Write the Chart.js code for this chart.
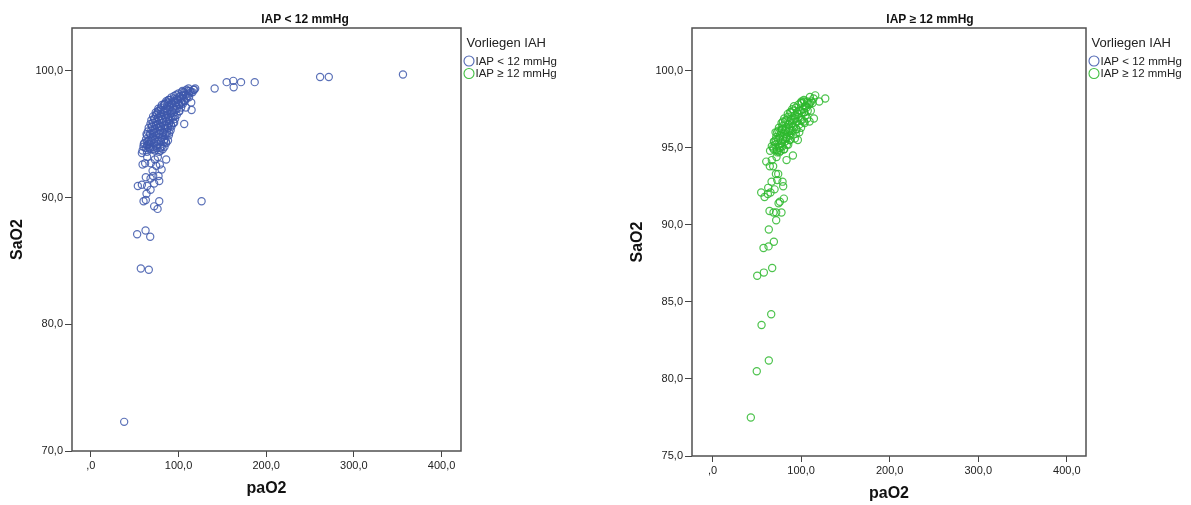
<!DOCTYPE html>
<html>
<head>
<meta charset="utf-8">
<title>SaO2 vs paO2 nach Vorliegen IAH</title>
<script src="https://cdn.jsdelivr.net/npm/chart.js@4.4.1/dist/chart.umd.min.js"></script>
<style>
  html, body { margin: 0; padding: 0; background: #fff; width: 1191px; height: 505px; overflow: hidden; }
  .panel { position: absolute; top: 0; height: 505px; }
  canvas { display: block; }
</style>
</head>
<body>
<div class="panel" style="left:0;width:600px"><canvas id="chartLow" width="600" height="505"></canvas></div>
<div class="panel" style="left:600px;width:591px"><canvas id="chartHigh" width="591" height="505"></canvas></div>
<script>
// ---- labels ----
const legendTitle = 'Vorliegen IAH';
const groupLabels = ['IAP < 12 mmHg', 'IAP \u2265 12 mmHg'];
const groupColors = ['#3e58ac', '#2eb82e'];
const xTitle = 'paO2';
const yTitle = 'SaO2';

// ---- tick positions ----
const xTicks = [0, 100, 200, 300, 400];
const yTicksLow = [70, 80, 90, 100];
const yTicksHigh = [75, 80, 85, 90, 95, 100];

// ---- IAP < 12 mmHg ----
const paO2Low = [
  38, 57, 66.1, 52.8, 62.4, 67.7, 126.3, 78, 72.2, 76.1,
  60.1, 62.7, 53.6, 58.2, 63.5, 68.1, 64.2, 72.2, 78, 68.1,
  77.2, 62.7, 71.1, 80.7, 70.4, 74.5, 78.7, 61.9, 68.4, 59,
  85.9, 73, 76.4, 64.2, 58.2, 67.3, 60.4, 79.5, 85.6, 95,
  106.5, 114.9, 108.4, 114.5, 117.9, 141.2, 154.9, 162.5, 162.9, 171.3,
  186.9, 261.5, 271.4, 356,
  59, 64, 69, 73, 78, 82, 60, 64, 67, 71, 75, 79, 84,
  61, 65, 68, 72, 76, 80, 86, 63, 66, 70, 73, 77, 81, 84, 88,
  64, 68, 71, 74, 78, 82, 85, 89, 65, 69, 72, 75, 79, 83, 87, 91,
  66, 70, 73, 76, 80, 84, 88, 92, 68, 71, 74, 77, 81, 85, 89, 94,
  69, 72, 75, 78, 82, 86, 90, 96, 71, 74, 77, 80, 84, 88, 92, 98,
  74, 77, 80, 83, 87, 91, 95, 101, 77, 80, 83, 86, 90, 94, 98, 103,
  81, 84, 87, 90, 93, 97, 101, 105, 86, 89, 92, 95, 99, 103, 107,
  92, 95, 98, 101, 105, 109, 112, 100, 104, 108, 112, 116, 109, 113, 117, 119,
  70.5, 75.5, 83.5, 88.5, 79.5, 86.5, 93.5, 66.5, 63.5, 99.5, 104.5, 111.5, 95.5, 89.5, 84.5,
  62.5, 66.5, 71.5, 75.5, 80.5,
  64.5, 69.5, 74.5, 79.5, 83.5,
  67.5, 72.5, 77.5, 82.5, 86.5, 89.5,
  69.5, 74.5, 78.5, 83.5, 87.5, 91.5,
  72.5, 76.5, 81.5, 85.5, 89.5, 93.5,
  76.5, 79.5, 84.5, 88.5, 92.5, 96.5, 100.5,
  84.5, 88.5, 92.5, 96.5, 100.5, 104.5,
  90.5, 94.5, 98.5, 102.5, 106.5,
  97.5, 101.5, 105.5, 110.5,
  106.5, 110.5, 114.5
];
const saO2Low = [
  72.3, 84.4, 84.3, 87.1, 87.4, 86.9, 89.7, 89.7, 89.3, 89.1,
  89.7, 89.8, 90.9, 91.0, 90.3, 90.6, 90.9, 91.1, 91.3, 91.5,
  91.7, 91.6, 91.7, 92.2, 92.1, 92.5, 92.6, 92.7, 92.7, 92.6,
  93.0, 93.0, 93.2, 93.2, 93.5, 93.8, 94.2, 93.7, 94.4, 95.9,
  95.8, 96.9, 97.1, 97.5, 98.5, 98.6, 99.1, 99.2, 98.7, 99.1,
  99.1, 99.5, 99.5, 99.7,
  93.7, 93.6, 93.8, 93.7, 93.6, 93.8, 94.0, 94.1, 93.9, 94.0, 94.1, 93.9, 94.0,
  94.3, 94.2, 94.4, 94.3, 94.2, 94.4, 94.3, 94.6, 94.5, 94.7, 94.6, 94.5, 94.7, 94.6, 94.5,
  94.9, 95.0, 94.8, 94.9, 95.0, 94.8, 95.0, 94.9, 95.2, 95.3, 95.1, 95.2, 95.3, 95.1, 95.2, 95.3,
  95.5, 95.6, 95.4, 95.5, 95.6, 95.4, 95.5, 95.6, 95.8, 95.9, 95.7, 95.8, 95.9, 95.7, 95.8, 95.9,
  96.1, 96.2, 96.0, 96.1, 96.2, 96.0, 96.1, 96.2, 96.4, 96.5, 96.3, 96.4, 96.5, 96.3, 96.4, 96.5,
  96.7, 96.8, 96.6, 96.7, 96.8, 96.6, 96.7, 96.8, 97.0, 97.1, 96.9, 97.0, 97.1, 96.9, 97.0, 97.1,
  97.3, 97.4, 97.2, 97.3, 97.4, 97.2, 97.3, 97.4, 97.6, 97.7, 97.5, 97.6, 97.7, 97.5, 97.6,
  97.9, 98.0, 97.8, 97.9, 98.0, 97.8, 97.9, 98.2, 98.3, 98.1, 98.2, 98.3, 98.5, 98.4, 98.5, 98.6,
  95.0, 96.6, 97.3, 97.7, 95.6, 96.5, 97.1, 94.2, 95.0, 97.5, 98.4, 98.6, 96.4, 95.9, 95.5,
  93.9, 94.0, 93.8, 93.9, 94.0,
  94.4, 94.5, 94.4, 94.5, 94.4,
  95.0, 95.1, 95.0, 95.1, 95.0, 95.1,
  95.6, 95.7, 95.6, 95.7, 95.6, 95.7,
  96.2, 96.3, 96.2, 96.3, 96.2, 96.3,
  96.8, 96.9, 96.8, 96.9, 96.8, 96.9, 96.8,
  97.4, 97.5, 97.4, 97.5, 97.4, 97.5,
  97.7, 97.8, 97.7, 97.8, 97.7,
  98.1, 98.0, 98.1, 98.0,
  98.3, 98.4, 98.3
];

// ---- IAP >= 12 mmHg ----
const paO2High = [
  43.3, 50, 63.6, 55.4, 66.3, 50.5, 58, 67.4, 57.6, 63.3,
  69.3, 63.6, 71.9, 64.4, 68.9, 71.9, 77.9, 74.6, 80.6, 76.1,
  55, 58.8, 62.5, 65.5, 62.9, 70.1, 79.8, 79.1, 66.7, 73.1,
  71.6, 74.2, 64.7, 68.5, 60.7, 67, 72.3, 83.6, 90.8, 72.7,
  75.4, 85.5, 69.3, 96.4, 71.2, 78.7, 114.5, 109.6, 103.6, 127.3,
  120.5, 116, 114.1, 109.9, 103.1, 100.5, 105,
  65, 69, 73, 77, 81, 67, 71, 75, 79, 84,
  70, 74, 78, 82, 87, 72, 76, 80, 84, 88, 93,
  73, 77, 81, 85, 89, 94, 98, 75, 79, 83, 87, 91, 95, 100,
  78, 82, 86, 90, 94, 98, 104, 81, 85, 89, 93, 97, 101, 107,
  85, 89, 93, 97, 101, 105, 90, 94, 98, 102, 106, 111,
  97, 101, 105, 109, 113, 107, 110, 92, 87, 83,
  68.5, 72.5, 76.5, 80.5,
  71.5, 75.5, 79.5, 83.5, 87.5,
  74.5, 78.5, 82.5, 86.5, 90.5, 94.5,
  79.5, 83.5, 87.5, 91.5, 95.5, 99.5, 103.5,
  87.5, 91.5, 95.5, 99.5, 103.5, 107.5,
  99.5, 103.5, 107.5, 111.5
];
const saO2High = [
  77.5, 80.5, 81.2, 83.5, 84.2, 86.7, 86.9, 87.2, 88.5, 88.6,
  88.9, 89.7, 90.3, 90.9, 90.8, 90.8, 90.8, 91.4, 91.7, 91.5,
  92.1, 91.8, 92.0, 92.1, 92.4, 92.3, 92.5, 92.8, 92.8, 92.9,
  93.3, 93.3, 93.8, 93.8, 94.1, 94.2, 94.4, 94.2, 94.5, 94.8,
  94.7, 95.2, 95.4, 95.5, 96.0, 96.2, 96.9, 96.7, 97.3, 98.2,
  98.0, 98.4, 98.2, 97.9, 98.1, 98.0, 97.7,
  94.8, 94.9, 94.7, 94.8, 94.9, 95.1, 95.2, 95.0, 95.1, 95.2,
  95.4, 95.5, 95.3, 95.4, 95.5, 95.7, 95.8, 95.6, 95.7, 95.8, 95.6,
  96.0, 96.1, 95.9, 96.0, 96.1, 95.9, 96.0, 96.3, 96.4, 96.2, 96.3, 96.4, 96.2, 96.3,
  96.6, 96.7, 96.5, 96.6, 96.7, 96.5, 96.6, 96.9, 97.0, 96.8, 96.9, 97.0, 96.8, 96.9,
  97.2, 97.3, 97.1, 97.2, 97.3, 97.1, 97.5, 97.6, 97.4, 97.5, 97.6, 97.4,
  97.8, 97.9, 97.7, 97.8, 97.9, 98.0, 98.3, 97.7, 96.1, 95.7,
  95.0, 94.9, 95.0, 94.9,
  95.5, 95.6, 95.5, 95.6, 95.5,
  96.1, 96.2, 96.1, 96.2, 96.1, 96.2,
  96.7, 96.8, 96.7, 96.8, 96.7, 96.8, 96.7,
  97.3, 97.4, 97.3, 97.4, 97.3, 97.4,
  97.9, 98.0, 97.9, 98.0
];

const FONT = '"Liberation Sans", Arial, Helvetica, sans-serif';

// German number format as SPSS prints it: ",0", "100,0"
function fmt(v) {
  return v === 0 ? ',0' : Number(v).toFixed(1).replace('.', ',');
}

function withAlpha(hex, a) {
  const n = parseInt(hex.slice(1), 16);
  return `rgba(${(n >> 16) & 255},${(n >> 8) & 255},${n & 255},${a})`;
}

// Frame around the plot area, panel title and the shared legend
const panelDecor = {
  id: 'panelDecor',
  beforeDatasetsDraw(chart) {
    const { ctx, chartArea: a } = chart;
    ctx.save();
    ctx.strokeStyle = '#505050';
    ctx.lineWidth = 1.5;
    ctx.strokeRect(a.left, a.top, a.right - a.left, a.bottom - a.top);
    ctx.restore();
  },
  afterDraw(chart, args, opts) {
    const { ctx, chartArea: a } = chart;
    ctx.save();
    ctx.fillStyle = '#111';
    ctx.textBaseline = 'middle';
    ctx.textAlign = 'center';
    ctx.font = `bold 12px ${FONT}`;
    ctx.fillText(opts.title, a.right - 156, 20);

    ctx.textAlign = 'left';
    ctx.fillStyle = '#222';
    ctx.font = `13px ${FONT}`;
    ctx.fillText(legendTitle, a.right + 5.5, 43);

    ctx.font = `11.5px ${FONT}`;
    groupLabels.forEach((label, i) => {
      const y = 61 + i * 12.5;
      ctx.beginPath();
      ctx.arc(a.right + 8, y, 5, 0, Math.PI * 2);
      ctx.strokeStyle = withAlpha(groupColors[i], 0.9);
      ctx.lineWidth = 1.1;
      ctx.stroke();
      ctx.fillStyle = '#222';
      ctx.fillText(label, a.right + 14.5, y + 0.5);
    });
    ctx.restore();
  }
};

function makeChart(id, xs, ys, group, g) {
  const points = xs.map((x, i) => ({ x, y: ys[i] }));
  return new Chart(document.getElementById(id), {
    type: 'scatter',
    data: {
      datasets: [{
        label: groupLabels[group],
        data: points,
        pointStyle: 'circle',
        pointRadius: 3.6,
        pointBorderWidth: 1.2,
        borderColor: withAlpha(groupColors[group], 0.85),
        backgroundColor: 'rgba(0,0,0,0)',
        pointHoverRadius: 3.6
      }]
    },
    options: {
      responsive: false,
      animation: false,
      events: [],
      layout: { padding: { left: 0, top: 28, right: g.padRight, bottom: 0 } },
      plugins: {
        legend: { display: false },
        tooltip: { enabled: false },
        panelDecor: { title: groupLabels[group] }
      },
      scales: {
        x: {
          type: 'linear',
          min: g.xMin,
          max: g.xMax,
          afterBuildTicks: s => { s.ticks = xTicks.map(v => ({ value: v })); },
          afterFit: s => { s.height = g.xAxisH; },
          ticks: { callback: fmt, autoSkip: false, maxRotation: 0, padding: 2, color: '#222', font: { family: FONT, size: 11 } },
          grid: { drawOnChartArea: false, drawTicks: true, tickLength: 6, color: '#444', lineWidth: 1 },
          border: { display: false },
          title: { display: true, text: xTitle, color: '#111', font: { family: FONT, size: 16, weight: 'bold' }, padding: { top: 0, bottom: g.xTitlePad } }
        },
        y: {
          type: 'linear',
          min: g.yMin,
          max: g.yMax,
          afterBuildTicks: s => { s.ticks = g.yTicks.map(v => ({ value: v })); },
          afterFit: s => { s.width = g.yAxisW; },
          ticks: { callback: fmt, autoSkip: false, padding: 2, color: '#222', font: { family: FONT, size: 11 } },
          grid: { drawOnChartArea: false, drawTicks: true, tickLength: 7, color: '#444', lineWidth: 1 },
          border: { display: false },
          title: { display: true, text: yTitle, color: '#111', font: { family: FONT, size: 16, weight: 'bold' }, padding: { top: g.yTitlePad, bottom: 0 } }
        }
      }
    },
    plugins: [panelDecor]
  });
}

makeChart('chartLow', paO2Low, saO2Low, 0, {
  padRight: 139, yAxisW: 72, xAxisH: 54,
  xMin: -21.5, xMax: 422.2, yMin: 70, yMax: 103.37,
  yTicks: yTicksLow, xTitlePad: 6.4, yTitlePad: 8.4
});

makeChart('chartHigh', paO2High, saO2High, 1, {
  padRight: 105, yAxisW: 92, xAxisH: 49,
  xMin: -23.1, xMax: 421.6, yMin: 75, yMax: 102.77,
  yTicks: yTicksHigh, xTitlePad: 1.4, yTitlePad: 28.4
});
</script>
</body>
</html>
